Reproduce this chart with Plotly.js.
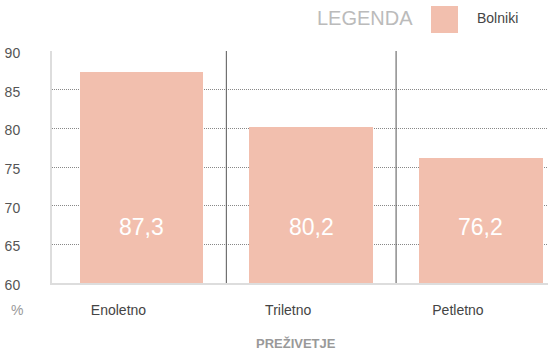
<!DOCTYPE html>
<html><head><meta charset="utf-8">
<script src="https://cdn.plot.ly/plotly-3.0.1.min.js"></script>
<style>html,body{margin:0;padding:0;background:#fff}#c{width:548px;height:352px}</style>
</head><body><div id="c"></div>
<script>
const categories = ["Enoletno", "Triletno", "Petletno"];
const values = [87.3, 80.2, 76.2];
const valueLabels = ["87,3", "80,2", "76,2"];
const seriesName = "Bolniki";
const yTicks = [60, 65, 70, 75, 80, 85, 90];

const W = 548, H = 352, L = 52, R = 0, T = 51, B = 69;
const px = x => (x - L) / (W - L - R);
const py = y => (H - B - y) / (H - T - B);
const FONT = "Liberation Sans, Arial, sans-serif";
const barColor = "#f2bfae";

const trace = {
  type: "bar", x: categories, y: values, name: seriesName,
  marker: {color: barColor}, width: 0.73, hoverinfo: "none", showlegend: false
};

const annotations = categories.map((c, i) => ({
  x: c, y: 67.2, xref: "x", yref: "y", text: valueLabels[i], showarrow: false,
  xanchor: "center", yanchor: "middle",
  font: {family: FONT, size: 23, color: "#ffffff"}
}));
annotations.push(
  {xref: "paper", yref: "paper", x: px(17), y: py(310), text: "%", showarrow: false,
   xanchor: "center", yanchor: "middle", font: {family: FONT, size: 14, color: "#999"}},
  {xref: "paper", yref: "paper", x: px(296), y: py(343), text: "<b>PREŽIVETJE</b>", showarrow: false,
   xanchor: "center", yanchor: "middle", font: {family: FONT, size: 13, color: "#999"}},
  {xref: "paper", yref: "paper", x: px(365), y: py(18), text: "LEGENDA", showarrow: false,
   xanchor: "center", yanchor: "middle", font: {family: FONT, size: 20, color: "#bbbbbb"}},
  {xref: "paper", yref: "paper", x: px(475), y: py(18), xanchor: "left", yanchor: "middle", text: seriesName, showarrow: false,
   font: {family: FONT, size: 14, color: "#444"}}
);

const shapes = [
  {type: "line", xref: "x", yref: "paper", x0: 0.5, x1: 0.5, y0: 0, y1: 1, line: {color: "#555", width: 1}, layer: "above"},
  {type: "line", xref: "x", yref: "paper", x0: 1.5, x1: 1.5, y0: 0, y1: 1, line: {color: "#555", width: 1}, layer: "above"},
  {type: "rect", xref: "paper", yref: "paper", x0: px(431), x1: px(458), y0: py(33), y1: py(6),
   fillcolor: barColor, line: {width: 0}}
];

const layout = {
  width: W, height: H, margin: {l: L, r: R, t: T, b: B},
  paper_bgcolor: "#fff", plot_bgcolor: "#fff",
  font: {family: FONT},
  bargap: 0,
  xaxis: {
    type: "category", range: [-0.527, 2.395], showgrid: false, zeroline: false,
    showline: true, linecolor: "#dddddd", linewidth: 2, ticks: "",
    tickfont: {family: FONT, size: 14, color: "#444"}, ticklabelstandoff: 13, ticklabelshift: -23
  },
  yaxis: {
    range: [60, 90], tickvals: yTicks, ticktext: yTicks.map(String),
    showgrid: true, gridcolor: "#888", griddash: "1px,1px", gridwidth: 1,
    zeroline: false, showline: true, linecolor: "#dddddd", linewidth: 2, ticks: "",
    tickfont: {family: FONT, size: 14, color: "#555"}, ticklabelstandoff: 27, ticklabelshift: 2
  },
  annotations, shapes
};

Plotly.newPlot("c", [trace], layout, {staticPlot: true, displayModeBar: false});
</script></body></html>
